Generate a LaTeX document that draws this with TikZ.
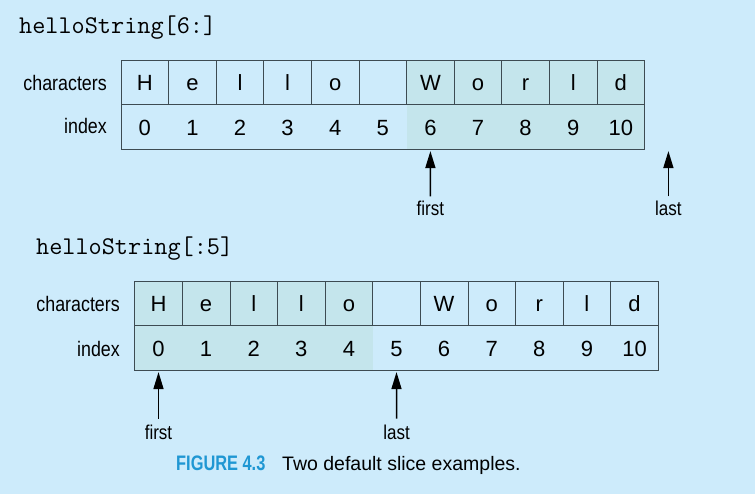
\documentclass[tikz,border=0pt]{standalone}
\usepackage{fontspec}
\setmainfont{Liberation Sans}
\newfontfamily\narrowfont[FakeStretch=0.85]{Liberation Sans}
\newfontfamily\figfont[FakeStretch=0.78]{Liberation Sans}
\usetikzlibrary{arrows.meta}

\definecolor{bgblue}{HTML}{CDEBFB}
\definecolor{slicefill}{HTML}{C4E5EC}
\definecolor{gridline}{HTML}{3D4B52}
\definecolor{figblue}{HTML}{1F97D3}

\begin{document}
\begin{tikzpicture}[x=1pt,y=-1pt,
    cell/.style={minimum width=47.6pt, minimum height=44.8pt, inner sep=0pt, outer sep=0pt,
        anchor=north west, text height=17pt, text depth=0pt, font=\fontsize{22}{22}\selectfont},
    box/.style={cell, draw=gridline, line width=0.8pt},
    rowlabel/.style={anchor=base east, inner sep=0pt, font=\narrowfont\fontsize{21}{21}\selectfont},
    ptrlabel/.style={anchor=base, inner sep=0pt, font=\narrowfont\fontsize{20}{20}\selectfont},
    title/.style={anchor=base west, inner sep=0pt, font=\ttfamily\fontsize{25.5}{25.5}\selectfont},
    pointer/.style={-{Triangle[length=17pt,width=10pt]}, line width=1.5pt, black}]

    % Background
    \fill[bgblue] (0,0) rectangle (755,494);
    \useasboundingbox (0,0) rectangle (755,494);

    % helloString[6:]
    \node[title] (toptitle) at (19,34) {helloString[6:]};
    \node[rowlabel] (tcharlbl) at (107,90.7) {characters};
    \node[rowlabel] (tidxlbl) at (107,134) {index};
    \foreach \ch [count=\i from 0] in {H,e,l,l,o,{},W,o,r,l,d}{
        \ifnum\i>5 \def\cf{slicefill}\else\def\cf{none}\fi
        \node[cell, fill=\cf] (ti\i) at (121+47.6*\i,104.8) {\i};
        \node[box, fill=\cf] (tc\i) at (121+47.6*\i,60) {\ch};
    }
    \draw[gridline, line width=0.8pt] (ti0.north west) rectangle (ti10.south east);
    \coordinate (tend) at (668.4,149.6);

    % Pointers
    \node[ptrlabel] (tfirst) at (430.4,216) {first};
    \node[ptrlabel] (tlast) at (668.4,216) {last};
    \draw[pointer, shorten <=5pt, shorten >=1.5pt] (tfirst.north) -- (ti6.south);
    \draw[pointer, shorten <=5pt, shorten >=1.5pt] (tlast.north) -- (tend);

    % helloString[:5]
    \node[title] (bottitle) at (36,255) {helloString[:5]};
    \node[rowlabel] (bcharlbl) at (120,311.7) {characters};
    \node[rowlabel] (bidxlbl) at (120,356.7) {index};
    \foreach \ch [count=\i from 0] in {H,e,l,l,o,{},W,o,r,l,d}{
        \ifnum\i<5 \def\cf{slicefill}\else\def\cf{none}\fi
        \node[cell, fill=\cf] (bi\i) at (134.7+47.6*\i,325.8) {\i};
        \node[box, fill=\cf] (bc\i) at (134.7+47.6*\i,281) {\ch};
    }
    \draw[gridline, line width=0.8pt] (bi0.north west) rectangle (bi10.south east);

    % Pointers
    \node[ptrlabel] (bfirst) at (158.5,439.3) {first};
    \node[ptrlabel] (blast) at (396.5,439.3) {last};
    \draw[pointer, shorten <=6pt, shorten >=1.5pt] (bfirst.north) -- (bi0.south);
    \draw[pointer, shorten <=6pt, shorten >=1.5pt] (blast.north) -- (bi5.south);

    % Caption
    \node[anchor=base west, inner sep=0pt, text=figblue, font=\figfont\bfseries\fontsize{21}{21}\selectfont] (figlbl) at (176,470) {FIGURE 4.3};
    \node[anchor=base west, inner sep=0pt, font=\fontsize{19.5}{19.5}\selectfont] (figtxt) at (282,470) {Two default slice examples.};

\end{tikzpicture}
\end{document}
